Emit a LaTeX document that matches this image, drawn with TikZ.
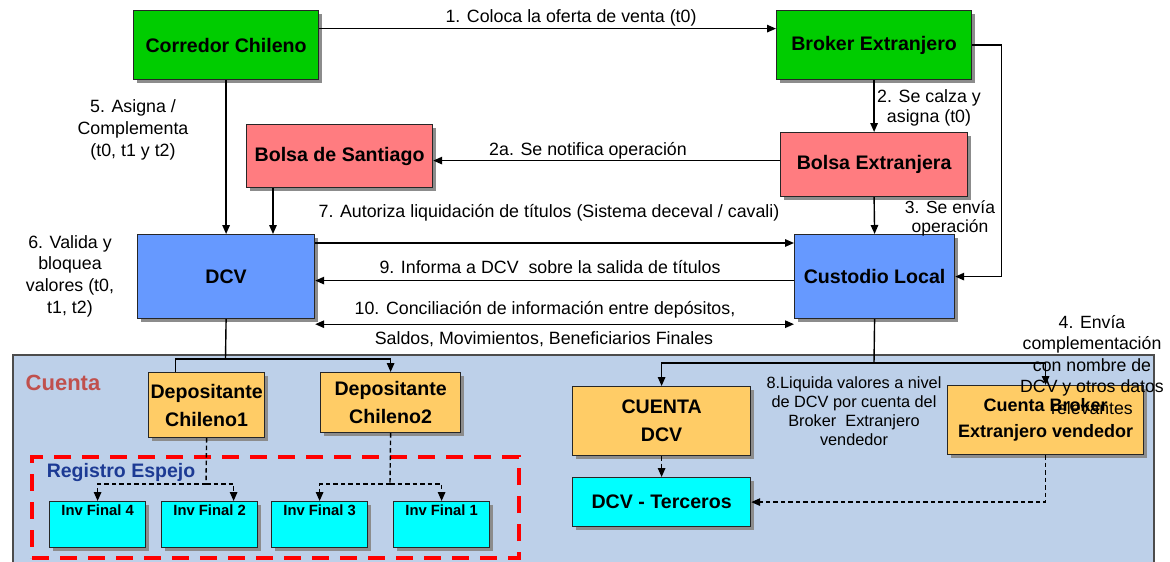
\documentclass[tikz,border=0pt]{standalone}
\usepackage{fontspec}
\setmainfont{Liberation Sans}
\usetikzlibrary{shadows,arrows.meta}

\newlength{\du}
\setlength{\du}{1pt}

\definecolor{verdecolor}{rgb}{0.000000, 0.800000, 0.000000}
\definecolor{rosacolor}{rgb}{1.000000, 0.486275, 0.501961}
\definecolor{azulcolor}{rgb}{0.400000, 0.600000, 1.000000}
\definecolor{naranjacolor}{rgb}{1.000000, 0.800000, 0.400000}
\definecolor{cyancolor}{rgb}{0.000000, 1.000000, 1.000000}
\definecolor{panelcolor}{rgb}{0.741176, 0.815686, 0.913725}
\definecolor{cuentacolor}{rgb}{0.752941, 0.313725, 0.301961}
\definecolor{espejocolor}{rgb}{0.109804, 0.227451, 0.580392}

\tikzset{
  caja/.style={draw=black!85, line width=1.2\du, inner sep=0pt, align=center,
    font=\fontsize{19.6}{28}\selectfont\bfseries,
    drop shadow={shadow xshift=3pt, shadow yshift=-3pt, fill=black!45, opacity=1}},
  invcaja/.style={caja, fill=cyancolor, minimum width=96\du, inner xsep=0pt, inner ysep=2.5\du,
    text height=11\du, text depth=30\du, font=\fontsize{14.8}{17}\selectfont\bfseries},
  flecha/.style={line width=1.4\du, -{Triangle[length=9pt,width=7.5pt]}},
  dobleflecha/.style={line width=1.4\du, {Triangle[length=9pt,width=7.5pt]}-{Triangle[length=9pt,width=7.5pt]}},
  punteada/.style={line width=1.4\du, dash pattern=on 4.5pt off 3pt},
  rotulo/.style={inner sep=0pt, align=center, font=\fontsize{17.8}{21.5}\selectfont},
}

\begin{document}
\begin{tikzpicture}[x=1pt, y=-1pt]
\useasboundingbox (0,0) rectangle (1170,562);

% fondo cuenta
\node[draw=black!70, line width=1.5\du, fill=panelcolor, minimum width=1141\du, minimum height=230\du, anchor=north west] (panel) at (12,354) {};
\node[anchor=center, text=cuentacolor, font=\fontsize{22}{26}\selectfont\bfseries] (cuenta) at (63,383) {Cuenta};
\node[draw=red, line width=4\du, dash pattern=on 17pt off 11pt, minimum width=487\du, minimum height=101\du, anchor=north west] (espejo) at (30,455) {};
\node[text=espejocolor, font=\fontsize{19.5}{23}\selectfont\bfseries] (registro) at (121,472) {Registro Espejo};

% cajas
\node[caja, fill=verdecolor, minimum width=185\du, minimum height=69\du, anchor=north west] (corredor) at (133,10) {Corredor Chileno};
\node[caja, fill=verdecolor, minimum width=195\du, minimum height=69\du, anchor=north west] (broker) at (776,10) {Broker Extranjero};
\node[caja, fill=rosacolor, minimum width=186\du, minimum height=63\du, anchor=north west] (bolsasan) at (246,124) {Bolsa de Santiago};
\node[caja, fill=rosacolor, minimum width=187\du, minimum height=64\du, anchor=north west] (bolsaext) at (780,132) {Bolsa Extranjera};
\node[caja, fill=azulcolor, minimum width=177\du, minimum height=84\du, anchor=north west] (dcv) at (137,234) {DCV};
\node[caja, fill=azulcolor, minimum width=160\du, minimum height=84\du, anchor=north west] (custodio) at (794,234) {Custodio Local};
\node[caja, fill=naranjacolor, minimum width=116\du, minimum height=65\du, anchor=north west] (dep1) at (148,372) {Depositante\\Chileno1};
\node[caja, fill=naranjacolor, minimum width=140\du, minimum height=60\du, anchor=north west] (dep2) at (320,372) {Depositante\\Chileno2};
\node[caja, fill=naranjacolor, minimum width=178\du, minimum height=69\du, anchor=north west] (cuentadcv) at (572,386) {CUENTA\\DCV};
\node[caja, fill=cyancolor, minimum width=178\du, minimum height=49\du, anchor=north west] (terceros) at (572,477) {DCV - Terceros};
\node[caja, fill=naranjacolor, minimum width=196\du, minimum height=69\du, anchor=north west, font=\fontsize{18}{26}\selectfont\bfseries] (cuentabroker) at (947,385) {Cuenta Broker\\Extranjero vendedor};
\node[invcaja, anchor=north west] (inv4) at (49,501) {Inv Final 4};
\node[invcaja, anchor=north west] (inv2) at (161,501) {Inv Final 2};
\node[invcaja, anchor=north west] (inv3) at (271,501) {Inv Final 3};
\node[invcaja, anchor=north west] (inv1) at (393,501) {Inv Final 1};

% conectores
\draw[flecha] ([yshift=16.5pt]corredor.east) -- ([yshift=16.5pt]broker.west);
\draw[flecha] (broker.south) -- (bolsaext.north);
\draw[flecha] ([yshift=4pt]bolsaext.west) -- ([yshift=4pt]bolsaext.west -| bolsasan.east);
\draw[flecha] (bolsaext.south) -- (custodio.north);
\draw[flecha] (broker.east) -- ++(29,0) |- (custodio.east);
\draw[flecha] (corredor.south) -- (dcv.north);
\coordinate (santbaja) at ([xshift=27pt]bolsasan.south west);
\draw[flecha] (santbaja) -- (santbaja |- dcv.north);
\draw[flecha] ([yshift=-9pt]dcv.north east) -- ([yshift=-9pt]custodio.north west);
\draw[flecha] ([yshift=-4pt]custodio.west) -- ([yshift=-4pt]dcv.east);
\draw[dobleflecha] ([yshift=-5pt]dcv.south east) -- ([yshift=-5pt]custodio.south west);

\coordinate (dcvjunta) at (225.5,359);
\draw[line width=1.4\du] (dcv.south) -- (dcvjunta);
\draw[flecha] ([xshift=-31pt]dep1.north) |- (dcvjunta) -| (dep2.north);

\coordinate (custjunta) at (874,363);
\draw[line width=1.4\du] (custodio.south) -- (custjunta);
\draw[flecha] (custjunta) -| (cuentadcv.north);
\draw[flecha] (custjunta) -| (cuentabroker.north);

\coordinate (dep1junta) at (206,484);
\draw[punteada] (dep1.south) -- (dep1junta);
\draw[punteada, -{Triangle[length=9pt,width=7.5pt]}] (dep1junta) -| (inv4.north);
\draw[punteada, -{Triangle[length=9pt,width=7.5pt]}] (dep1junta) -| ([xshift=24pt]inv2.north);
\coordinate (dep2junta) at (390,484);
\draw[punteada] (dep2.south) -- (dep2junta);
\draw[punteada, -{Triangle[length=9pt,width=7.5pt]}] (dep2junta) -| (inv3.north);
\draw[punteada, -{Triangle[length=9pt,width=7.5pt]}] (dep2junta) -| (inv1.north);

\draw[punteada, -{Triangle[length=9pt,width=7.5pt]}] (cuentadcv.south) -- (terceros.north);
\draw[punteada, -{Triangle[length=9pt,width=7.5pt]}] (cuentabroker.south) |- (terceros.east);

% rotulos
\node[rotulo] (r1) at (571,18) {1. Coloca la oferta de venta (t0)};
\node[rotulo, font=\fontsize{17.8}{20}\selectfont] (r2) at (929,108) {2. Se calza y\\asigna (t0)};
\node[rotulo] (r2a) at (588,151) {2a. Se notifica operación};
\node[rotulo, font=\fontsize{17.5}{19}\selectfont] (r3) at (950,218) {3. Se envía\\operación};
\node[rotulo, font=\fontsize{17.8}{22}\selectfont] (r5) at (133,130) {5. Asigna /\\Complementa\\(t0, t1 y t2)};
\node[rotulo, font=\fontsize{17.8}{21.7}\selectfont] (r6) at (70,276) {6. Valida y\\bloquea\\valores (t0,\\t1, t2)};
\node[rotulo] (r7) at (549,213) {7. Autoriza liquidación de títulos (Sistema deceval / cavali)};
\node[rotulo] (r9) at (550,267) {9. Informa a DCV\ \ sobre la salida de títulos};
\node[rotulo] (r10a) at (545,310) {10. Conciliación de información entre depósitos,};
\node[rotulo] (r10b) at (544,339) {Saldos, Movimientos, Beneficiarios Finales};
\node[rotulo, font=\fontsize{16.3}{19}\selectfont] (r8) at (854,411.5) {8.Liquida valores a nivel\\de DCV por cuenta del\\Broker\ \ Extranjero\\vendedor};
\node[rotulo, font=\fontsize{17.7}{21.5}\selectfont] (r4) at (1092,365) {4. Envía\\complementación\\con nombre de\\DCV y otros datos\\relevantes};
\end{tikzpicture}
\end{document}
